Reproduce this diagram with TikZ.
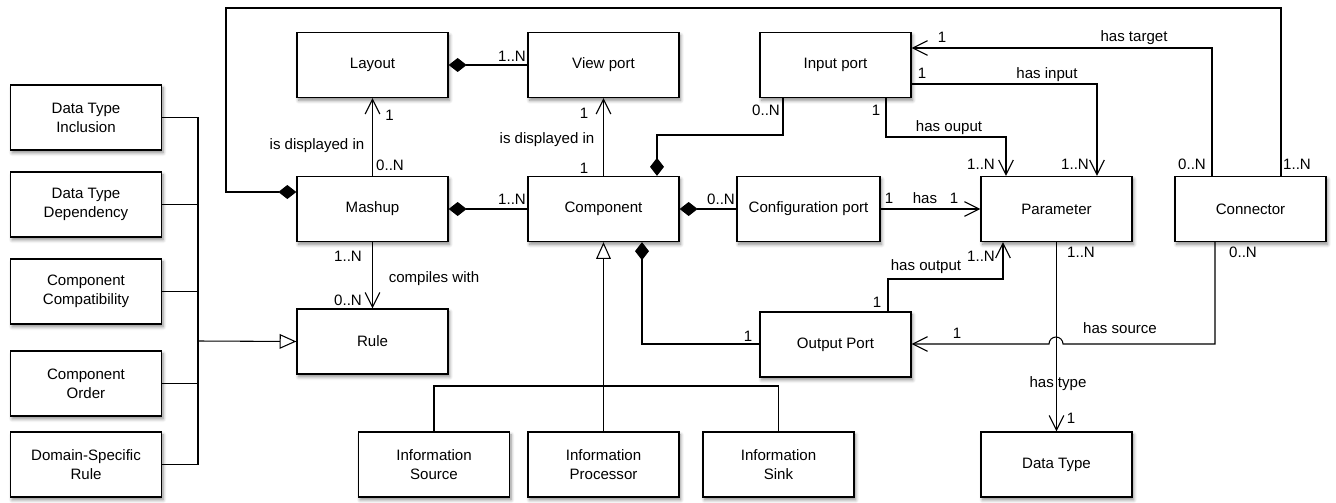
\documentclass[tikz,border=0pt]{standalone}
\usepackage{fontspec}
\setmainfont{Liberation Sans}
\usetikzlibrary{arrows.meta,shadows.blur}

\begin{document}
\begin{tikzpicture}[x=0.75pt,y=-0.75pt,
	every node/.style={font=\fontsize{11.3}{14.3}\selectfont},
	cls/.style={draw,line width=1pt,fill=white,minimum width=113.25pt,minimum height=48.75pt,align=center,inner sep=2pt,
		blur shadow={shadow xshift=1.2pt,shadow yshift=-2.2pt,shadow blur radius=2.5pt,shadow blur steps=6,shadow opacity=45}},
	lbl/.style={inner sep=0pt,anchor=base},
	conn/.style={line width=0.8pt},
	assoc/.style={conn,-{Straight Barb[length=11pt,width=11pt]}},
	compo/.style={conn,-{Diamond[length=13.5pt,width=10.5pt]}},
	gen/.style={conn,-{Triangle[open,length=12.5pt,width=11pt]}}]
		\useasboundingbox (0,0) rectangle (1336,503);
		% rule kinds
		\node[cls] (dtincl) at (86,117.5) {Data Type\\Inclusion};
		\node[cls] (dtdep) at (86,204.5) {Data Type\\Dependency};
		\node[cls] (compat) at (86,291.5) {Component\\Compatibility};
		\node[cls] (corder) at (86,383.5) {Component\\Order};
		\node[cls] (domrule) at (86,464.5) {Domain-Specific\\Rule};
		% main classes
		\node[cls] (layout) at (372.5,65) {Layout};
		\node[cls] (mashup) at (372.5,209) {Mashup};
		\node[cls] (rule) at (372.5,341.5) {Rule};
		\node[cls] (viewport) at (603.5,65) {View port};
		\node[cls] (comp) at (603.5,209) {Component};
		\node[cls,minimum width=107.25pt] (confport) at (808.5,209) {Configuration port};
		\node[cls] (inport) at (835.5,65) {Input port};
		\node[cls] (outport) at (835.5,344.5) {Output Port};
		\node[cls] (param) at (1056.5,209) {Parameter};
		\node[cls] (connector) at (1250.5,209) {Connector};
		\node[cls] (datatype) at (1056.5,464.5) {Data Type};
		% component kinds
		\node[cls] (infosrc) at (434,464.5) {Information\\Source};
		\node[cls] (infoproc) at (603.5,464.5) {Information\\Processor};
		\node[cls] (infosink) at (778.5,464.5) {Information\\Sink};
		\coordinate (rbar) at (198,341); % rule generalisation bar
		\coordinate (ibar) at (604,386); % component generalisation bar
		\coordinate (topL) at (226,8);
		\coordinate (topR) at (1281,8);
		% generalisations
		\draw[conn] (dtincl.east) -| (domrule.east -| rbar) -- (domrule.east);
		\draw[conn] (dtdep.east) -- (dtdep.east -| rbar);
		\draw[conn] (compat.east) -- (compat.east -| rbar);
		\draw[conn] (corder.east) -- (corder.east -| rbar);
		\draw[gen] (rbar) -- (rule.west);
		\draw[conn] (infosrc.north) |- (ibar) -| (infosink.north);
		\draw[gen] (infoproc.north) -- (comp.south);
		% compositions
		\draw[compo] (connector.north -| topR) -- (topR) -- (topL) |- (mashup.west |- 0,192);
		\draw[compo] (viewport.west) -- (layout.east);
		\draw[compo] (comp.west) -- (mashup.east);
		\draw[compo] (confport.west) -- (comp.east);
		\draw[compo] (inport.south -| 783,0) |- (657,135) -- (comp.north -| 657,0);
		\draw[compo] (outport.west |- 0,344) -| (comp.south -| 642,0);
		% associations
		\draw[assoc] (mashup.north) -- (layout.south);
		\draw[assoc] (comp.north) -- (viewport.south);
		\draw[assoc] (mashup.south) -- (rule.north);
		\draw[assoc] (confport.east) -- (param.west);
		\draw[assoc] (inport.south -| 886,0) |- (1006,137) -- (param.north -| 1006,0); % has ouput
		\draw[assoc] (inport.east |- 0,84) -| (param.north -| 1097,0); % has input
		\draw[assoc] (connector.north -| 1212,0) |- (inport.east |- 0,48); % has target
		\draw[assoc] (outport.north -| 888,0) |- (1003,279) -- (param.south -| 1003,0); % has output
		\draw[assoc] (param.south) -- (datatype.north); % has type
		\draw[assoc] (connector.south -| 1215,0) -- (1215,344) -- (1063,344) arc (0:-180:7) -- (outport.east |- 0,344); % has source
		% multiplicities and roles
		\node[lbl] (mlA) at (317,149) {is displayed in};
		\node[lbl] (mlB) at (389.5,121) {1};
		\node[lbl] (mlC) at (390,171) {0..N};
		\node[lbl] (lvA) at (512,62) {1..N};
		\node[lbl] (cvA) at (584,118) {1};
		\node[lbl] (cvB) at (547,143) {is displayed in};
		\node[lbl] (cvC) at (584,173) {1};
		\node[lbl] (mcA) at (512,204) {1..N};
		\node[lbl] (ccA) at (721,204) {0..N};
		\node[lbl] (icA) at (766,116) {0..N};
		\node[lbl] (hoA) at (876,116) {1};
		\node[lbl] (hoB) at (949,132) {has ouput};
		\node[lbl] (hoC) at (981,170) {1..N};
		\node[lbl] (hiA) at (922,79) {1};
		\node[lbl] (hiB) at (1047,79) {has input};
		\node[lbl] (hiC) at (1075,170) {1..N};
		\node[lbl] (htA) at (942,43) {1};
		\node[lbl] (htB) at (1134,42) {has target};
		\node[lbl] (htC) at (1192,170) {0..N};
		\node[lbl] (loopA) at (1297,170) {1..N};
		\node[lbl] (hasA) at (889,203) {1};
		\node[lbl] (hasB) at (925,203) {has};
		\node[lbl] (hasC) at (954,203) {1};
		\node[lbl] (mrA) at (348,261) {1..N};
		\node[lbl] (mrB) at (434,282) {compiles with};
		\node[lbl] (mrC) at (348,305) {0..N};
		\node[lbl] (hpA) at (877,307) {1};
		\node[lbl] (hpB) at (926,270) {has output};
		\node[lbl] (hpC) at (981,261) {1..N};
		\node[lbl] (tyA) at (1081,257) {1..N};
		\node[lbl] (tyB) at (1058,387) {has type};
		\node[lbl] (tyC) at (1071,423) {1};
		\node[lbl] (hsA) at (1243,257) {0..N};
		\node[lbl] (hsB) at (1120,333) {has source};
		\node[lbl] (hsC) at (957,338) {1};
		\node[lbl] (coA) at (748,341) {1};
\end{tikzpicture}
\end{document}
